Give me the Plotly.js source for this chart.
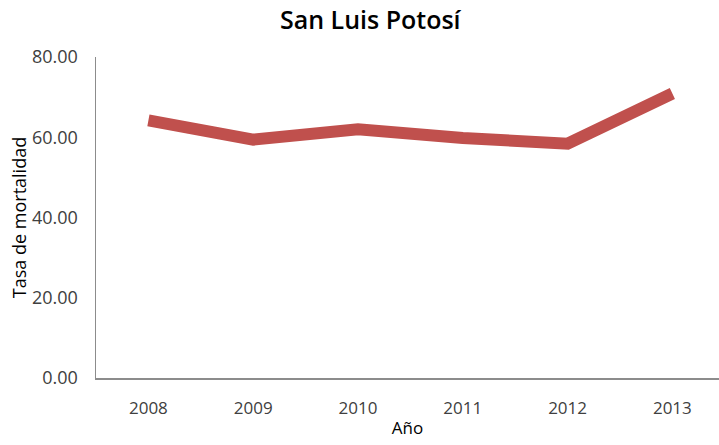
<!DOCTYPE html>
<html>
<head>
<meta charset="utf-8">
<script src="https://cdn.plot.ly/plotly-3.0.1.min.js"></script>
<style>html,body{margin:0;padding:0;background:#fff;}#chart{width:719px;height:445px;}</style>
</head>
<body>
<div id="chart"></div>
<script>
var years = ['2008', '2009', '2010', '2011', '2012', '2013'];
var tasa = [64.2, 59.4, 62.0, 59.8, 58.4, 70.9];
var yTicks = [0, 20, 40, 60, 80];
var yTickText = ['0.00', '20.00', '40.00', '60.00', '80.00'];

var trace = {
  x: years,
  y: tasa,
  type: 'scatter',
  mode: 'lines',
  line: {color: '#C0504D', width: 12},
  hoverinfo: 'x+y'
};

var layout = {
  width: 719,
  height: 445,
  margin: {l: 96, r: 0, t: 57, b: 67},
  paper_bgcolor: '#ffffff',
  plot_bgcolor: '#ffffff',
  showlegend: false,
  title: {
    text: 'San Luis Potosí',
    font: {family: 'Open Sans, sans-serif', size: 25, weight: 600, color: '#000000'},
    x: 0.515, xanchor: 'center', y: 0.955, yanchor: 'middle'
  },
  xaxis: {
    type: 'category',
    range: [-0.5, 5.445],
    showline: true, linecolor: '#8c8c8c', linewidth: 1.5,
    showgrid: false, zeroline: false,
    ticks: '', ticklabelstandoff: 14,
    tickfont: {family: 'Open Sans, sans-serif', size: 17, color: '#404040'},
    title: {text: 'Año', font: {family: 'Open Sans, sans-serif', size: 17, color: '#000000'}, standoff: 4}
  },
  yaxis: {
    range: [0, 80],
    tickvals: yTicks,
    ticktext: yTickText,
    showline: true, linecolor: '#8c8c8c', linewidth: 1.5,
    showgrid: false, zeroline: false,
    ticks: '', ticklabelstandoff: 13,
    tickfont: {family: 'Open Sans, sans-serif', size: 18, color: '#404040'},
    title: {text: 'Tasa de mortalidad', font: {family: 'Open Sans, sans-serif', size: 18, color: '#000000'}, standoff: 0}
  }
};

Plotly.newPlot('chart', [trace], layout, {displayModeBar: false, staticPlot: true});
</script>
</body>
</html>
